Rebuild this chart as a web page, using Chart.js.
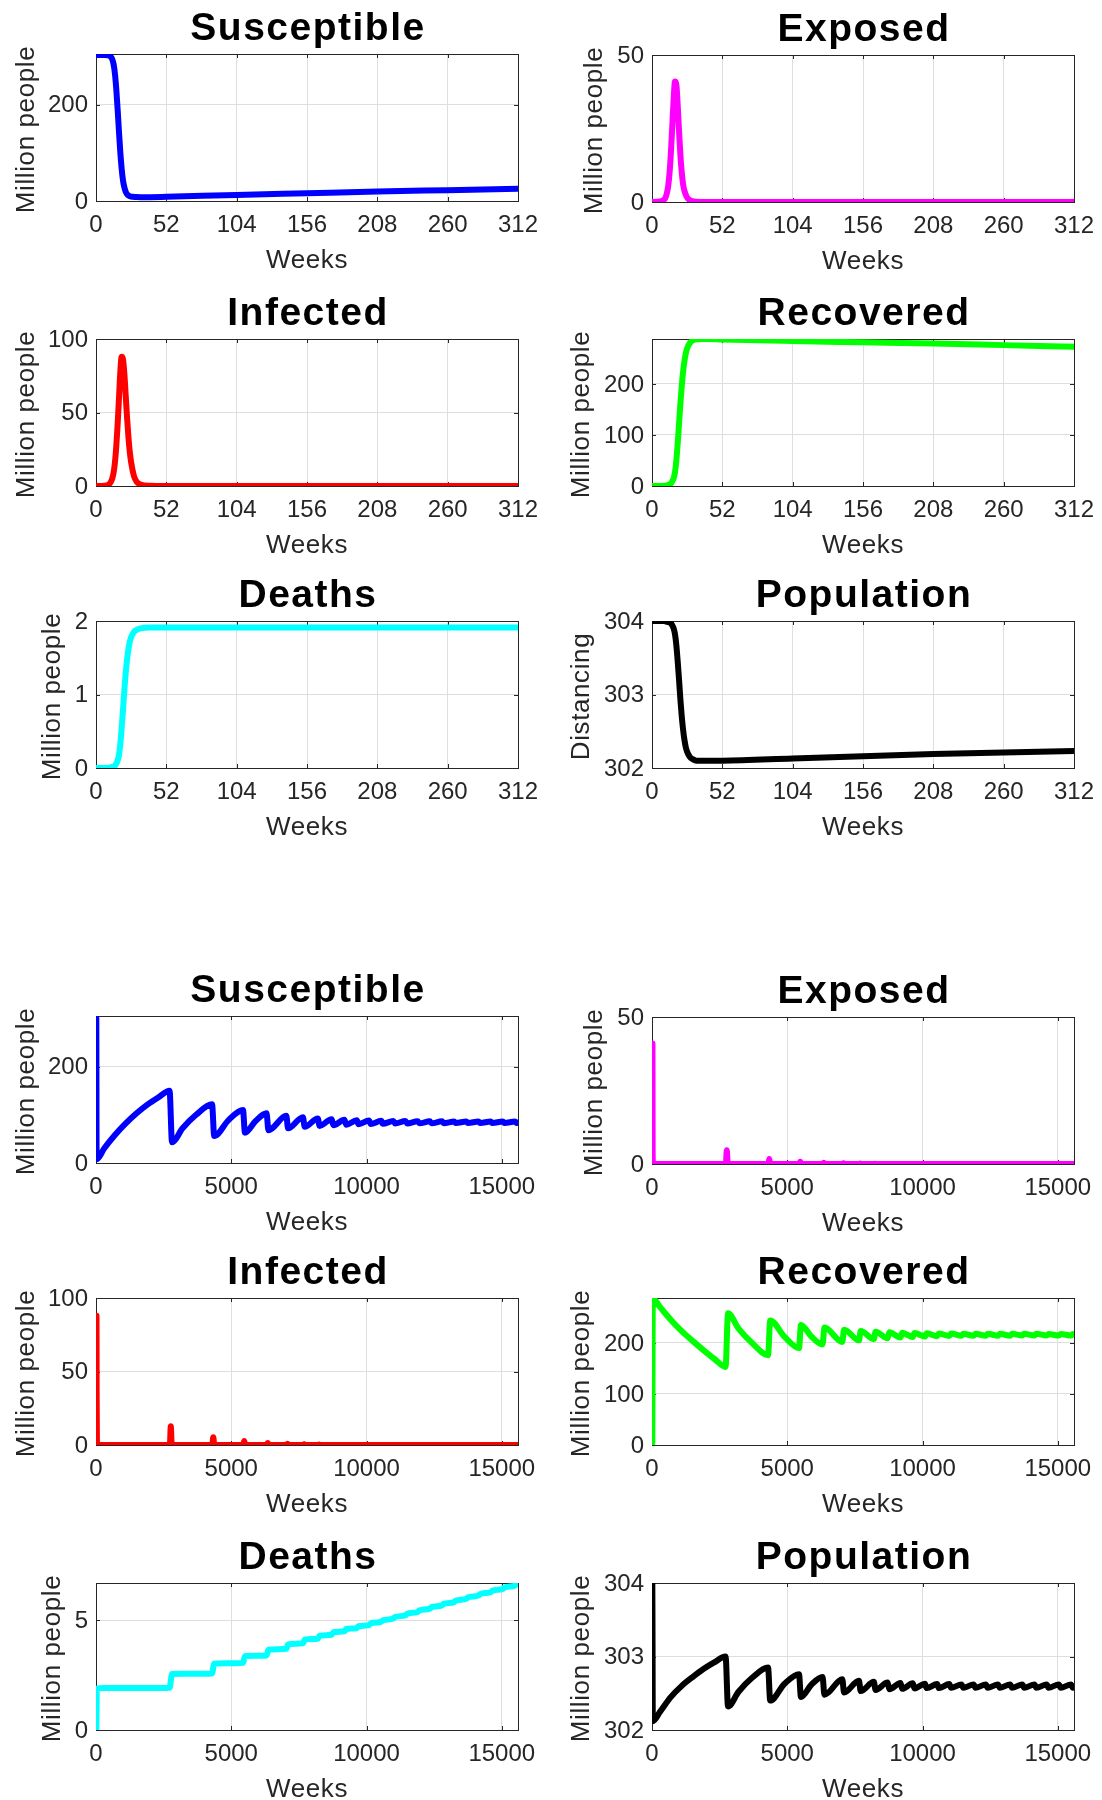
<!DOCTYPE html>
<html>
<head>
<meta charset="utf-8">
<script src="https://cdn.jsdelivr.net/npm/chart.js@4.4.1/dist/chart.umd.min.js"></script>
<style>
  html, body { margin: 0; padding: 0; background: #ffffff; overflow: hidden; }
  body { position: relative; width: 1102px; height: 1800px; }
  canvas { position: absolute; }
</style>
</head>
<body>
<script>
// ---------------- DATA: first 6 years (weeks 0..312) ----------------
const weeksShort = [0, 6, 9, 10, 11, 12, 13, 14, 15, 16, 17, 18, 19, 20, 21, 22, 23, 24, 25, 26, 28, 30, 33, 40, 52, 104, 156, 208, 260, 312];
const susceptibleShort = [303, 303, 302.5, 301.5, 299, 294, 284, 264, 232, 190, 143, 100, 66, 42, 28, 19, 14, 11.5, 10, 9.2, 8.5, 8.1, 7.9, 8, 8.8, 12.5, 16, 19.5, 22.5, 25.5];
const exposedShort = [0, 0.2, 0.8, 1.5, 3, 5.5, 10, 17, 26, 35, 41, 40, 33, 24, 16, 10, 6, 3.8, 2.4, 1.5, 0.6, 0.25, 0.1, 0.02, 0, 0, 0, 0, 0, 0];
const infectedShort = [0, 0.2, 0.8, 1.5, 2.8, 5, 9, 16, 27, 42, 60, 78, 88, 86, 76, 61, 46, 33, 23, 16, 7, 3, 1, 0.15, 0.02, 0, 0, 0, 0, 0];
const recoveredShort = [0, 0.1, 0.5, 0.8, 1.3, 2, 3, 5, 9, 15, 27, 50, 83, 122, 162, 196, 224, 245, 260, 270, 280, 285, 287.5, 288, 287, 284, 281.5, 279, 276, 273];
const deathsShort = [0, 0, 0, 0.005, 0.01, 0.015, 0.02, 0.03, 0.06, 0.1, 0.18, 0.33, 0.55, 0.8, 1.07, 1.3, 1.48, 1.62, 1.72, 1.78, 1.85, 1.88, 1.9, 1.91, 1.91, 1.91, 1.91, 1.91, 1.91, 1.91];
const populationShort = [304, 304, 304, 303.995, 303.99, 303.985, 303.98, 303.97, 303.94, 303.9, 303.82, 303.67, 303.45, 303.2, 302.93, 302.7, 302.52, 302.38, 302.28, 302.22, 302.15, 302.12, 302.1, 302.1, 302.1, 302.13, 302.16, 302.19, 302.21, 302.23];

// ---------------- DATA: 300 years (weeks 0..15600) ----------------
const weeksLong = [0, 12, 20, 30, 300, 700, 1100, 1500, 1900, 2300,
  2720, 2810, 3200, 3700, 4290, 4370, 4900, 5435, 5505, 5900,
  6305, 6375, 7035, 7100, 7650, 7715, 8200, 8265, 8710, 8775,
  9185, 9250, 9640, 9705, 10090, 10155, 10540, 10605, 10990, 11055,
  11440, 11505, 11890, 11955, 12340, 12405, 12790, 12855, 13240, 13305,
  13690, 13755, 14140, 14205, 14590, 14655, 15040, 15105, 15490, 15555,
  15600];
const susceptibleLong = [303, 300, 45, 8, 30, 58, 82, 103, 121, 136,
  150, 43, 72, 100, 122, 56, 89, 110, 63, 87,
  103, 68, 98, 72, 95, 75, 92.5, 77, 91, 78.5,
  89.5, 79.5, 88.5, 80.5, 88, 81, 87.5, 81.5, 87, 82,
  87, 82, 86.5, 82.5, 86.5, 82.5, 86.5, 82.5, 86, 83,
  86, 83, 86, 83, 86, 83, 86, 83, 86, 83,
  84];
const recoveredLong = [0, 5, 150, 287, 270, 245, 223, 204, 186, 169,
  153, 258, 228, 200, 176, 244, 212, 190, 235, 212,
  197, 230, 202, 226, 205, 223.5, 207.5, 222, 209, 221,
  210.5, 220, 211.5, 219.5, 212.5, 219, 213, 218.5, 213.5, 218.5,
  214, 218, 214, 218, 214, 218, 214, 218, 214, 218,
  214.5, 218, 214.5, 218, 214.5, 217.5, 214.5, 217.5, 214.5, 217.5,
  216.5];
const populationLong = [304, 303.99, 303.2, 302.12, 302.25, 302.45, 302.6, 302.72, 302.83, 302.92,
  303.0, 302.32, 302.52, 302.71, 302.85, 302.4, 302.63, 302.76, 302.45, 302.62,
  302.72, 302.48, 302.69, 302.51, 302.67, 302.53, 302.655, 302.545, 302.645, 302.555,
  302.64, 302.56, 302.635, 302.565, 302.63, 302.57, 302.625, 302.57, 302.625, 302.575,
  302.62, 302.575, 302.62, 302.575, 302.62, 302.575, 302.62, 302.575, 302.62, 302.575,
  302.62, 302.575, 302.62, 302.575, 302.62, 302.575, 302.62, 302.575, 302.62, 302.575,
  302.59];
const deathsLong = [0, 0.01, 0.8, 1.88, 1.91, 1.91, 1.91, 1.91, 1.91, 1.91,
  1.92, 2.55, 2.56, 2.56, 2.58, 3.02, 3.04, 3.06, 3.36, 3.38,
  3.4, 3.66, 3.7, 3.9, 3.95, 4.12, 4.16, 4.3, 4.34, 4.46,
  4.5, 4.6, 4.64, 4.73, 4.78, 4.86, 4.93, 5.0, 5.08, 5.15,
  5.23, 5.3, 5.38, 5.45, 5.53, 5.6, 5.68, 5.75, 5.83, 5.9,
  5.98, 6.05, 6.13, 6.2, 6.28, 6.35, 6.43, 6.5, 6.58, 6.65,
  6.69];
const weeksSpikes = [0, 12, 17, 19, 24, 35, 100, 2730, 2765, 2800, 4300, 4335, 4370, 5445, 5480, 5515, 6315, 6350, 6385, 7045, 7080, 7115, 7660, 7695, 7730, 8210, 8245, 8280, 15600];
const exposedLong = [0, 3, 41, 33, 3.8, 0.1, 0, 0, 4.7, 0, 0, 1.7, 0, 0, 0.8, 0, 0, 0.4, 0, 0, 0.25, 0, 0, 0.15, 0, 0, 0.1, 0, 0];
const infectedLong = [0, 2.8, 60, 88, 33, 0.6, 0, 0, 12.7, 0, 0, 5.3, 0, 0, 2.8, 0, 0, 1.4, 0, 0, 0.8, 0, 0, 0.5, 0, 0, 0.3, 0, 0];

// ---------------- TICKS ----------------
const xTicksShort = [0, 52, 104, 156, 208, 260, 312];
const xTicksLong = [0, 5000, 10000, 15000];
const yTicksSusceptible = [0, 200];
const yTicksExposed = [0, 50];
const yTicksInfected = [0, 50, 100];
const yTicksRecovered = [0, 100, 200];
const yTicksDeathsShort = [0, 1, 2];
const yTicksDeathsLong = [0, 5];
const yTicksPopulation = [302, 303, 304];

// ---------------- LAYOUT / STYLE ----------------
const FONT = '"Liberation Sans", Arial, Helvetica, sans-serif';
const TXT = '#262626';
const L = 96, R = 50, T = 50, B = 85, PW = 422, PH = 147;
const COL = [96, 652];

const textPlugin = {
  id: 'matlabAxes',
  beforeDatasetsDraw(chart) {
    const {ctx, chartArea: a, scales} = chart;
    ctx.save();
    ctx.strokeStyle = TXT;
    ctx.lineWidth = 1;
    ctx.strokeRect(a.left + 0.5, a.top + 0.5, a.right - a.left, a.bottom - a.top);
    const tl = 4;
    ctx.beginPath();
    scales.x.ticks.forEach(t => {
      const px = Math.round(scales.x.getPixelForValue(t.value)) + 0.5;
      ctx.moveTo(px, a.bottom); ctx.lineTo(px, a.bottom - tl);
      ctx.moveTo(px, a.top); ctx.lineTo(px, a.top + tl);
    });
    scales.y.ticks.forEach(t => {
      const py = Math.round(scales.y.getPixelForValue(t.value)) + 0.5;
      ctx.moveTo(a.left, py); ctx.lineTo(a.left + tl, py);
      ctx.moveTo(a.right, py); ctx.lineTo(a.right - tl, py);
    });
    ctx.stroke();
    ctx.restore();
  },
  afterDraw(chart, args, opts) {
    const {ctx, chartArea: a} = chart;
    const cx = (a.left + a.right) / 2;
    ctx.save();
    ctx.fillStyle = '#000000';
    ctx.font = 'bold 39px ' + FONT;
    try { ctx.letterSpacing = '1.5px'; } catch (e) {}
    ctx.textAlign = 'center';
    ctx.textBaseline = 'alphabetic';
    ctx.fillText(opts.title, cx + 1, a.top - 14);
    ctx.fillStyle = TXT;
    ctx.font = '26px ' + FONT;
    try { ctx.letterSpacing = '0.6px'; } catch (e) {}
    ctx.fillText(opts.xLabel, cx, a.bottom + 67);
    ctx.translate(a.left - opts.yLabelOffset, (a.top + a.bottom) / 2 + 2);
    ctx.rotate(-Math.PI / 2);
    ctx.fillText(opts.yLabel, 0, 0);
    ctx.restore();
  }
};

function makeChart(p) {
  const canvas = document.createElement('canvas');
  canvas.width = L + PW + R;
  canvas.height = T + PH + B;
  canvas.style.left = (COL[p.col] - L) + 'px';
  canvas.style.top = (p.plotTop - T) + 'px';
  document.body.appendChild(canvas);
  const pts = p.xs.map((x, i) => ({x: x, y: p.ys[i]}));
  new Chart(canvas, {
    type: 'line',
    data: { datasets: [{
      data: pts, borderColor: p.color, backgroundColor: p.color, borderWidth: 6,
      pointRadius: 0, cubicInterpolationMode: 'monotone', borderJoinStyle: 'round',
      borderCapStyle: 'round', fill: false
    }]},
    options: {
      responsive: false, animation: false, events: [],
      layout: { padding: { top: T, right: R, left: 0, bottom: 0 } },
      plugins: {
        legend: { display: false }, tooltip: { enabled: false }, title: { display: false },
        matlabAxes: { title: p.title, xLabel: 'Weeks', yLabel: p.yLabel, yLabelOffset: p.yOff }
      },
      scales: {
        x: {
          type: 'linear', min: 0, max: p.xMax,
          afterBuildTicks: s => { s.ticks = p.xTicks.map(v => ({value: v})); },
          afterFit: s => { s.height = B; },
          grid: { color: '#dedede', lineWidth: 1, drawTicks: false },
          border: { display: false },
          ticks: { padding: 10, color: TXT, font: { family: FONT, size: 24 }, maxRotation: 0, autoSkip: false, callback: v => String(v) }
        },
        y: {
          type: 'linear', min: p.yMin, max: p.yMax,
          afterBuildTicks: s => { s.ticks = p.yTicks.map(v => ({value: v})); },
          afterFit: s => { s.width = L; },
          grid: { color: '#dedede', lineWidth: 1, drawTicks: false },
          border: { display: false },
          ticks: { padding: 8, labelOffset: 1, color: TXT, font: { family: FONT, size: 24 }, autoSkip: false, callback: v => String(v) }
        }
      }
    },
    plugins: [textPlugin]
  });
}

const short = { xMax: 312, xTicks: xTicksShort };
const long = { xMax: 15600, xTicks: xTicksLong };

makeChart(Object.assign({ col: 0, plotTop: 54, title: 'Susceptible', yLabel: 'Million people', yOff: 62, color: '#0000ff', xs: weeksShort, ys: susceptibleShort, yMin: 0, yMax: 305, yTicks: yTicksSusceptible }, short));
makeChart(Object.assign({ col: 1, plotTop: 55, title: 'Exposed', yLabel: 'Million people', yOff: 50, color: '#ff00ff', xs: weeksShort, ys: exposedShort, yMin: 0, yMax: 50, yTicks: yTicksExposed }, short));
makeChart(Object.assign({ col: 0, plotTop: 339, title: 'Infected', yLabel: 'Million people', yOff: 62, color: '#ff0000', xs: weeksShort, ys: infectedShort, yMin: 0, yMax: 100, yTicks: yTicksInfected }, short));
makeChart(Object.assign({ col: 1, plotTop: 339, title: 'Recovered', yLabel: 'Million people', yOff: 63, color: '#00ff00', xs: weeksShort, ys: recoveredShort, yMin: 0, yMax: 288, yTicks: yTicksRecovered }, short));
makeChart(Object.assign({ col: 0, plotTop: 621, title: 'Deaths', yLabel: 'Million people', yOff: 36, color: '#00ffff', xs: weeksShort, ys: deathsShort, yMin: 0, yMax: 2, yTicks: yTicksDeathsShort }, short));
makeChart(Object.assign({ col: 1, plotTop: 621, title: 'Population', yLabel: 'Distancing', yOff: 63, color: '#000000', xs: weeksShort, ys: populationShort, yMin: 302, yMax: 304, yTicks: yTicksPopulation }, short));

makeChart(Object.assign({ col: 0, plotTop: 1016, title: 'Susceptible', yLabel: 'Million people', yOff: 62, color: '#0000ff', xs: weeksLong, ys: susceptibleLong, yMin: 0, yMax: 305, yTicks: yTicksSusceptible }, long));
makeChart(Object.assign({ col: 1, plotTop: 1017, title: 'Exposed', yLabel: 'Million people', yOff: 50, color: '#ff00ff', xs: weeksSpikes, ys: exposedLong, yMin: 0, yMax: 50, yTicks: yTicksExposed }, long));
makeChart(Object.assign({ col: 0, plotTop: 1298, title: 'Infected', yLabel: 'Million people', yOff: 62, color: '#ff0000', xs: weeksSpikes, ys: infectedLong, yMin: 0, yMax: 100, yTicks: yTicksInfected }, long));
makeChart(Object.assign({ col: 1, plotTop: 1298, title: 'Recovered', yLabel: 'Million people', yOff: 63, color: '#00ff00', xs: weeksLong, ys: recoveredLong, yMin: 0, yMax: 288, yTicks: yTicksRecovered }, long));
makeChart(Object.assign({ col: 0, plotTop: 1583, title: 'Deaths', yLabel: 'Million people', yOff: 36, color: '#00ffff', xs: weeksLong, ys: deathsLong, yMin: 0, yMax: 6.7, yTicks: yTicksDeathsLong }, long));
makeChart(Object.assign({ col: 1, plotTop: 1583, title: 'Population', yLabel: 'Million people', yOff: 63, color: '#000000', xs: weeksLong, ys: populationLong, yMin: 302, yMax: 304, yTicks: yTicksPopulation }, long));
</script>
</body>
</html>
